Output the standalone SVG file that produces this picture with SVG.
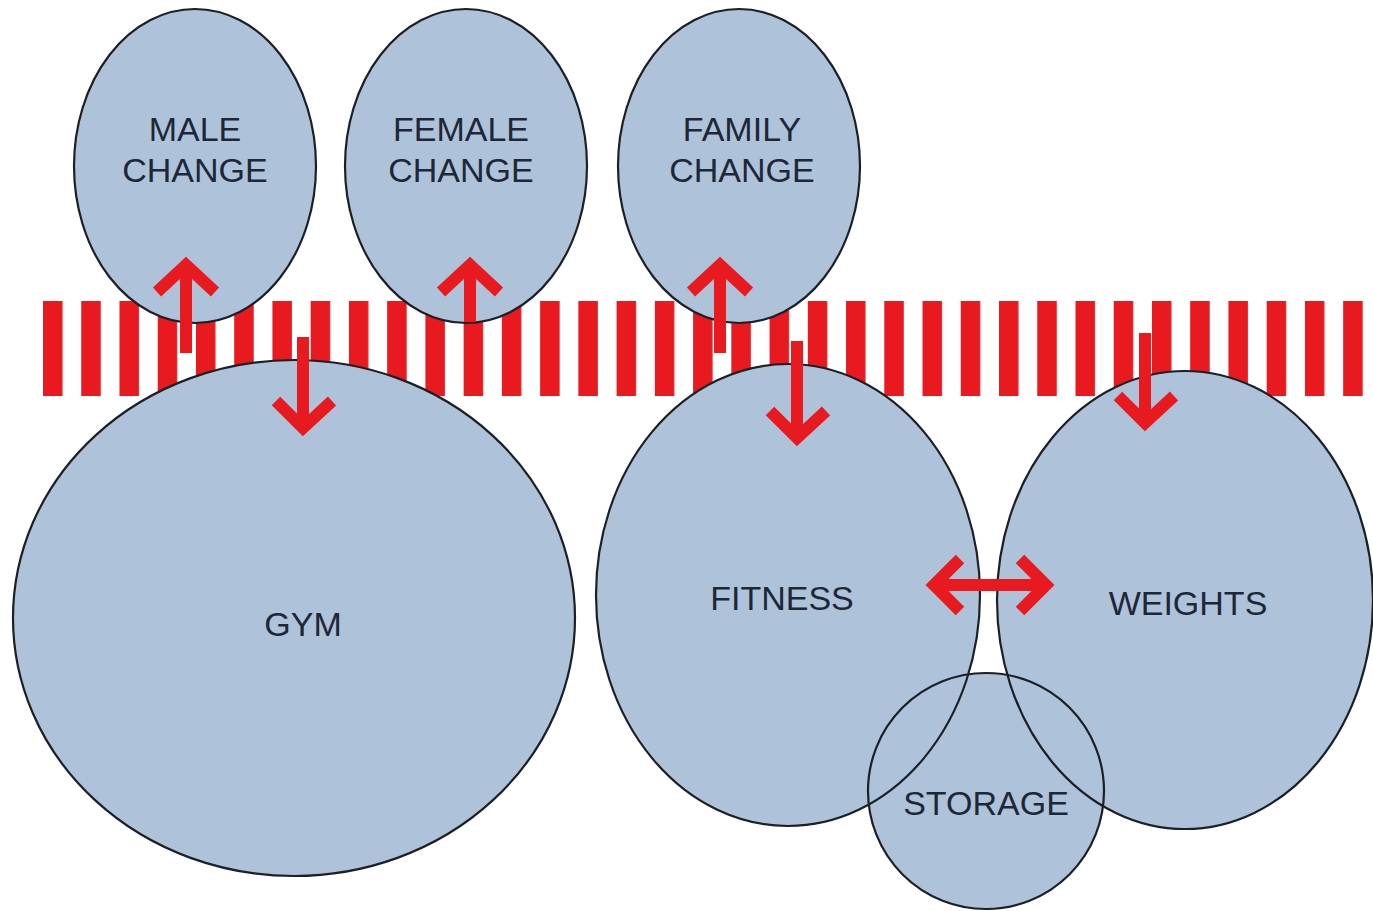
<svg xmlns="http://www.w3.org/2000/svg" width="1373" height="911" viewBox="0 0 1373 911">
<defs>
<style>
.fill{fill:#aec3da;stroke:none}
.edge{fill:none;stroke:#1c1f24;stroke-width:2.2}
.stripe{fill:#e8191f}
.arr{fill:none;stroke:#e8191f;stroke-width:12;stroke-linejoin:miter;stroke-linecap:butt}
.lbl{font-family:"Liberation Sans",Arial,sans-serif;font-size:34px;fill:#1d2737;text-anchor:middle}
</style>
<pattern id="stripes" x="43" y="0" width="38.24" height="911" patternUnits="userSpaceOnUse">
<rect x="0" y="0" width="19.5" height="911" class="stripe"/>
</pattern>
</defs>
<rect width="1373" height="911" fill="#ffffff"/>
<g id="band">
<rect x="43" y="301" width="1320" height="95" fill="url(#stripes)"/>
</g>
<g id="fills">
<ellipse class="fill" cx="195" cy="166" rx="121" ry="157"/>
<ellipse class="fill" cx="466" cy="166" rx="121" ry="157"/>
<ellipse class="fill" cx="739" cy="166" rx="121" ry="157"/>
<ellipse class="fill" cx="294" cy="618" rx="281" ry="258"/>
<ellipse class="fill" cx="788" cy="595" rx="192" ry="231"/>
<ellipse class="fill" cx="1185" cy="600" rx="188" ry="229"/>
<circle class="fill" cx="986" cy="791" r="118"/>
</g>
<g id="node-male-change">
<ellipse class="edge" cx="195" cy="166" rx="121" ry="157"/>
<text class="lbl" x="195" y="141">MALE</text>
<text class="lbl" x="195" y="182">CHANGE</text>
</g>
<g id="node-female-change">
<ellipse class="edge" cx="466" cy="166" rx="121" ry="157"/>
<text class="lbl" x="461" y="141">FEMALE</text>
<text class="lbl" x="461" y="182">CHANGE</text>
</g>
<g id="node-family-change">
<ellipse class="edge" cx="739" cy="166" rx="121" ry="157"/>
<text class="lbl" x="742" y="141">FAMILY</text>
<text class="lbl" x="742" y="182">CHANGE</text>
</g>
<g id="node-gym">
<ellipse class="edge" cx="294" cy="618" rx="281" ry="258"/>
<text class="lbl" x="303" y="636">GYM</text>
</g>
<g id="node-fitness">
<ellipse class="edge" cx="788" cy="595" rx="192" ry="231"/>
<text class="lbl" x="782" y="610">FITNESS</text>
</g>
<g id="node-weights">
<ellipse class="edge" cx="1185" cy="600" rx="188" ry="229"/>
<text class="lbl" x="1188" y="615">WEIGHTS</text>
</g>
<g id="node-storage">
<circle class="edge" cx="986" cy="791" r="118"/>
<text class="lbl" x="986" y="815">STORAGE</text>
</g>
<g id="connectors">
<path class="arr" d="M186,353 V268 M157,292 L186,265 L215,292"/>
<path class="arr" d="M470,322 V268 M441,292 L470,265 L499,292"/>
<path class="arr" d="M720,353 V268 M691,292 L720,265 L749,292"/>
<path class="arr" d="M303,337 V424 M276,401 L303,428 L332,401"/>
<path class="arr" d="M797,341 V435 M770,411 L797,438 L826,411"/>
<path class="arr" d="M1145,333 V420 M1118,396 L1145,423 L1174,396"/>
<path class="arr" d="M936,585 H1044 M960,559 L934,585 L960,611 M1020,559 L1046,585 L1020,611"/>
</g>
</svg>
